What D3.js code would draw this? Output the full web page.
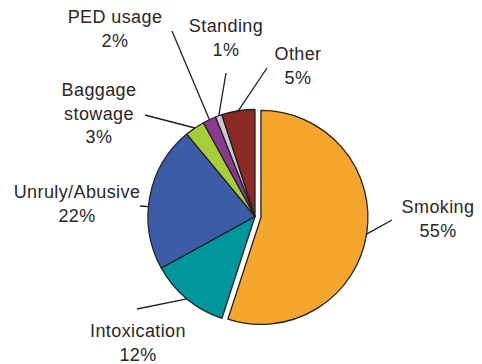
<!DOCTYPE html>
<html>
<head>
<meta charset="utf-8">
<script src="https://cdn.jsdelivr.net/npm/d3@7"></script>
<style>
  html, body { margin: 0; padding: 0; background: #ffffff; }
  svg { display: block; }
  text { font-family: "Liberation Sans", Arial, sans-serif; fill: #2a2728; }
</style>
</head>
<body>
<svg id="chart" width="482" height="364"></svg>
<script>
// ---- data ----
const categories = ["Smoking", "Intoxication", "Unruly/Abusive", "Baggage stowage", "PED usage", "Standing", "Other"];
const values = [55, 12, 22, 3, 2, 1, 5];
const labelLines = [["Smoking"], ["Intoxication"], ["Unruly/Abusive"], ["Baggage", "stowage"], ["PED usage"], ["Standing"], ["Other"]];
const colors = ["#f5a62d", "#00979c", "#3d5ca8", "#a6cd3a", "#8a3a8e", "#c5cbd1", "#8c2a26"];

// ---- layout (annotation positions) ----
const labelPos = [[438, 213], [138, 337], [77, 198], [99, 96], [115, 23], [226, 32], [298, 60]];
const leaderEnd = [[392, 220], [137, 309], [140, 206], [145, 115], [172, 31], [226, 73], [267, 68]];
const leaderFrac = [0.5, 0.5, 0.43, 0.5, 0.5, 0.5, 0.5];
const explode = [6, 0, 0, 0, 0, 0, 0];

const svg = d3.select("#chart");
const cx = 255, cy = 216.5, r = 107;
const lineH = 23.5;

const pie = d3.pie().sort(null).value(d => d.value);
const data = categories.map((c, i) => ({ name: c, value: values[i], i }));
const arcs = pie(data);
const arc = d3.arc().innerRadius(0).outerRadius(r);

const g = svg.append("g").attr("transform", `translate(${cx},${cy})`);

function offset(d) {
  const e = explode[d.data.i];
  const mid = (d.startAngle + d.endAngle) / 2;
  return [e * Math.sin(mid), -e * Math.cos(mid)];
}

g.selectAll("path.slice").data(arcs).join("path")
  .attr("class", "slice")
  .attr("d", arc)
  .attr("transform", d => { const o = offset(d); return `translate(${o[0]},${o[1]})`; })
  .attr("fill", d => colors[d.data.i])
  .attr("stroke", "#231f20")
  .attr("stroke-width", 1.3)
  .attr("stroke-linejoin", "round");

// leader lines
arcs.forEach(d => {
  const i = d.data.i;
  const a = d.startAngle + (d.endAngle - d.startAngle) * leaderFrac[i];
  const o = offset(d);
  const x1 = cx + o[0] + r * Math.sin(a);
  const y1 = cy + o[1] - r * Math.cos(a);
  svg.append("line")
    .attr("x1", x1).attr("y1", y1)
    .attr("x2", leaderEnd[i][0]).attr("y2", leaderEnd[i][1])
    .attr("stroke", "#231f20").attr("stroke-width", 1.3);
});

// labels
arcs.forEach(d => {
  const i = d.data.i;
  const lines = labelLines[i].concat([values[i] + "%"]);
  const t = svg.append("text")
    .attr("text-anchor", "middle")
    .attr("font-size", 18)
    .attr("letter-spacing", 0.4)
    .attr("x", labelPos[i][0]).attr("y", labelPos[i][1]);
  lines.forEach((s, k) => {
    t.append("tspan").attr("x", labelPos[i][0]).attr("dy", k === 0 ? 0 : lineH).text(s);
  });
});
</script>
</body>
</html>
